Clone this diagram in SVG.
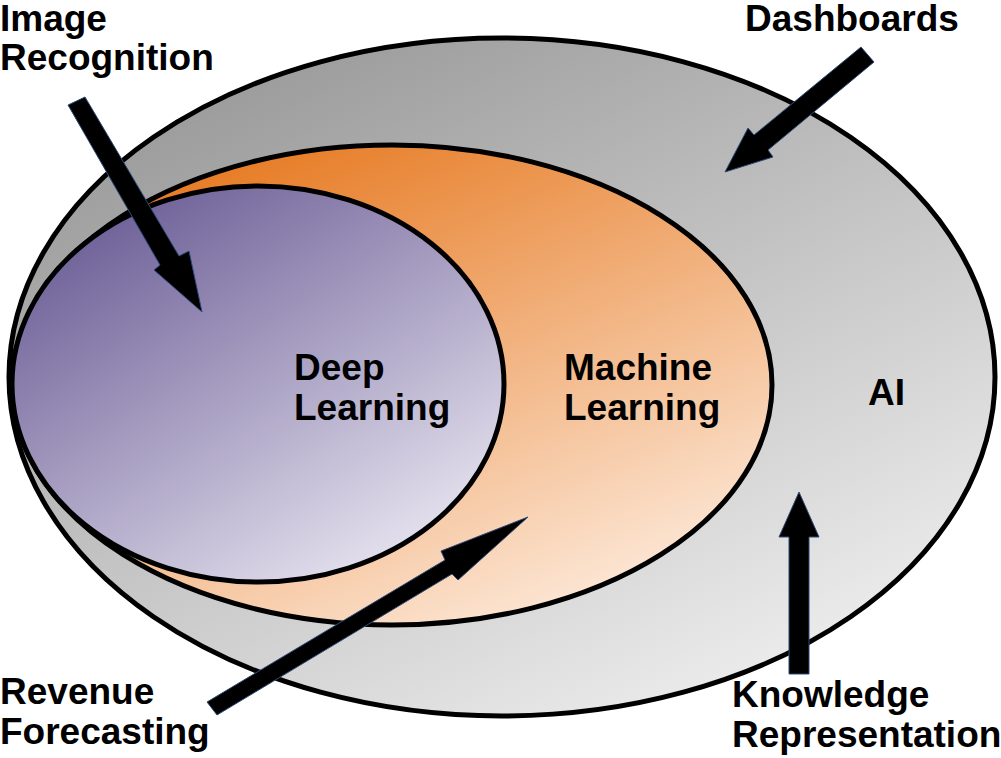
<svg xmlns="http://www.w3.org/2000/svg" width="1001" height="758" viewBox="0 0 1001 758">
<defs>
<linearGradient id="gAI" x1="0" y1="0" x2="0.7" y2="1"><stop offset="0" stop-color="#8e8e8e"/><stop offset="1" stop-color="#ececec"/></linearGradient>
<linearGradient id="gML" x1="0.1" y1="0" x2="0.75" y2="1"><stop offset="0" stop-color="#e46f10"/><stop offset="1" stop-color="#fdeadb"/></linearGradient>
<linearGradient id="gDL" x1="0.1" y1="0" x2="0.85" y2="1"><stop offset="0" stop-color="#62538f"/><stop offset="1" stop-color="#eeecf5"/></linearGradient>
</defs>
<style>
.ring{stroke:#000;stroke-width:5}
.arrow{fill:#000;stroke:#2f4a78;stroke-width:1;stroke-linejoin:miter}
text{font-family:"Liberation Sans",Arial,sans-serif;font-weight:bold;font-size:37px;fill:#000}
</style>
<g id="node-ai"><ellipse class="ring" cx="502" cy="377" rx="493" ry="339" fill="url(#gAI)"/><text x="868" y="405">AI</text></g>
<g id="node-ml"><ellipse class="ring" cx="392" cy="385" rx="380" ry="240" fill="url(#gML)"/><text x="564" y="380">Machine</text><text x="564" y="420">Learning</text></g>
<g id="node-dl"><ellipse class="ring" cx="258" cy="384" rx="246" ry="198" fill="url(#gDL)"/><text x="294" y="380">Deep</text><text x="294" y="420">Learning</text></g>
<g id="connectors">
<polygon class="arrow" points="68,105 85,97 179,256 189,251 202,312 154,270 160,265"/>
<polygon class="arrow" points="861,47 874,62 768,150 773,157 725,172 748,128 754,135"/>
<polygon class="arrow" points="207,702 217,715 452,574 458,580 528,517 441,551 445,560"/>
<polygon class="arrow" points="799,492 819,537 809,537 809,674 789,674 789,537 779,537"/>
</g>
<g id="label-image"><text x="0" y="31">Image</text><text x="0" y="70">Recognition</text></g>
<g id="label-dashboards"><text x="745" y="31">Dashboards</text></g>
<g id="label-revenue"><text x="0" y="704">Revenue</text><text x="0" y="744">Forecasting</text></g>
<g id="label-knowledge"><text x="732" y="707">Knowledge</text><text x="732" y="747">Representation</text></g>
</svg>
